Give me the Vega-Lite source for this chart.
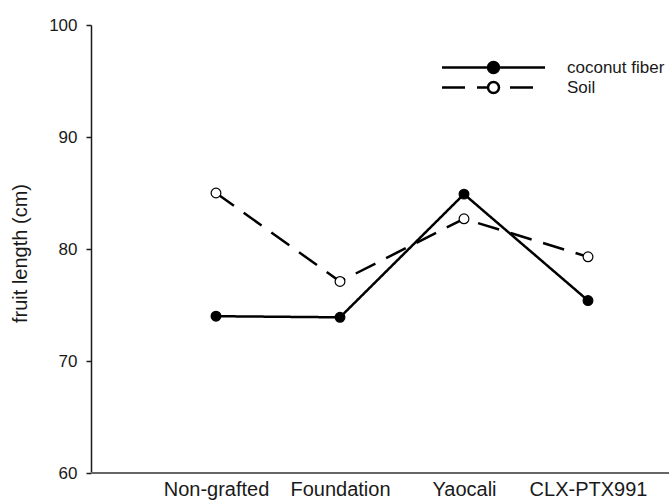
{
  "$schema": "https://vega.github.io/schema/vega-lite/v6.json",
  "width": 578,
  "height": 448,
  "autosize": {"type": "none"},
  "padding": {"left": 91, "top": 25, "right": 0, "bottom": 29},
  "background": "white",
  "config": {
    "view": {"stroke": null},
    "font": "Liberation Sans",
    "axis": {"grid": false, "labelFont": "Liberation Sans", "titleFont": "Liberation Sans", "labelColor": "#1a1a1a", "titleColor": "#1a1a1a"}
  },
  "data": {
    "values": [
      {"rootstock": "Non-grafted", "medium": "coconut fiber", "length": 74.0},
      {"rootstock": "Foundation", "medium": "coconut fiber", "length": 73.9},
      {"rootstock": "Yaocali", "medium": "coconut fiber", "length": 84.9},
      {"rootstock": "CLX-PTX991", "medium": "coconut fiber", "length": 75.4},
      {"rootstock": "Non-grafted", "medium": "Soil", "length": 85.0},
      {"rootstock": "Foundation", "medium": "Soil", "length": 77.1},
      {"rootstock": "Yaocali", "medium": "Soil", "length": 82.7},
      {"rootstock": "CLX-PTX991", "medium": "Soil", "length": 79.3}
    ]
  },
  "resolve": {"legend": {"strokeDash": "independent", "fill": "independent"}},
  "encoding": {
    "x": {
      "field": "rootstock",
      "type": "nominal",
      "sort": ["Non-grafted", "Foundation", "Yaocali", "CLX-PTX991"],
      "scale": {"type": "point", "range": [125, 497], "padding": 0},
      "axis": {
        "title": null,
        "domain": false,
        "ticks": false,
        "labelAngle": 0,
        "labelFontSize": 20,
        "labelPadding": 6,
        "encode": {
          "labels": {
            "update": {
              "dy": {"signal": "datum.value === 'Yaocali' ? 4 : datum.value === 'CLX-PTX991' ? 3 : 0"},
              "dx": {"signal": "datum.value === 'CLX-PTX991' ? 15 : datum.value === 'Foundation' ? 3 : datum.value === 'Yaocali' ? 2 : 0"}
            }
          }
        }
      }
    },
    "y": {
      "field": "length",
      "type": "quantitative",
      "scale": {"domain": [60, 100], "nice": false, "zero": false},
      "axis": {
        "title": "fruit length (cm)",
        "values": [60, 70, 80, 90, 100],
        "domainColor": "#1a1a1a",
        "domainWidth": 1.5,
        "tickColor": "#1a1a1a",
        "tickWidth": 1.5,
        "tickSize": 5,
        "labelFontSize": 17,
        "labelPadding": 9,
        "titleFontSize": 20,
        "titleFontWeight": "normal",
        "titleX": -71,
        "titleY": 228,
        "titleBaseline": "middle"
      }
    }
  },
  "layer": [
    {
      "mark": {"type": "rule", "color": "#666666", "strokeWidth": 2},
      "encoding": {"y": {"datum": 60}, "x": null}
    },
    {
      "mark": {"type": "line", "color": "black", "strokeWidth": 2.5},
      "encoding": {
        "strokeDash": {
          "field": "medium",
          "type": "nominal",
          "scale": {"domain": ["coconut fiber", "Soil"], "range": [[1, 0], [22, 12]]},
          "legend": null
        }
      }
    },
    {
      "mark": {"type": "point", "filled": true, "size": 95, "stroke": "black", "strokeWidth": 1.2, "opacity": 1},
      "encoding": {
        "fill": {
          "field": "medium",
          "type": "nominal",
          "scale": {"domain": ["coconut fiber", "Soil"], "range": ["black", "white"]},
          "legend": {
            "title": null,
            "orient": "none",
            "legendX": 394,
            "legendY": 34,
            "padding": 0,
            "labelFontSize": 17,
            "labelFont": "Liberation Sans",
            "labelColor": "#1a1a1a",
            "labelOffset": 65,
            "rowPadding": -1,
            "symbolSize": 100,
            "symbolStrokeColor": "black",
            "symbolStrokeWidth": 2.5,
            "symbolOpacity": 1,
            "encode": {
              "symbols": {
                "update": {
                  "shape": {"signal": "datum.value === 'Soil' ? 'M-10.3,0H-5.7M-3.3,0H-1.1M3.3,0H7.9M1.1,0A1.1,1.1,0,1,1,-1.1,0A1.1,1.1,0,1,1,1.1,0' : 'M-10.3,0H10.3M1.1,0A1.1,1.1,0,1,1,-1.1,0A1.1,1.1,0,1,1,1.1,0'"},
                  "stroke": {"value": "black"},
                  "strokeWidth": {"value": 2.5}
                }
              }
            }
          }
        }
      }
    }
  ]
}
